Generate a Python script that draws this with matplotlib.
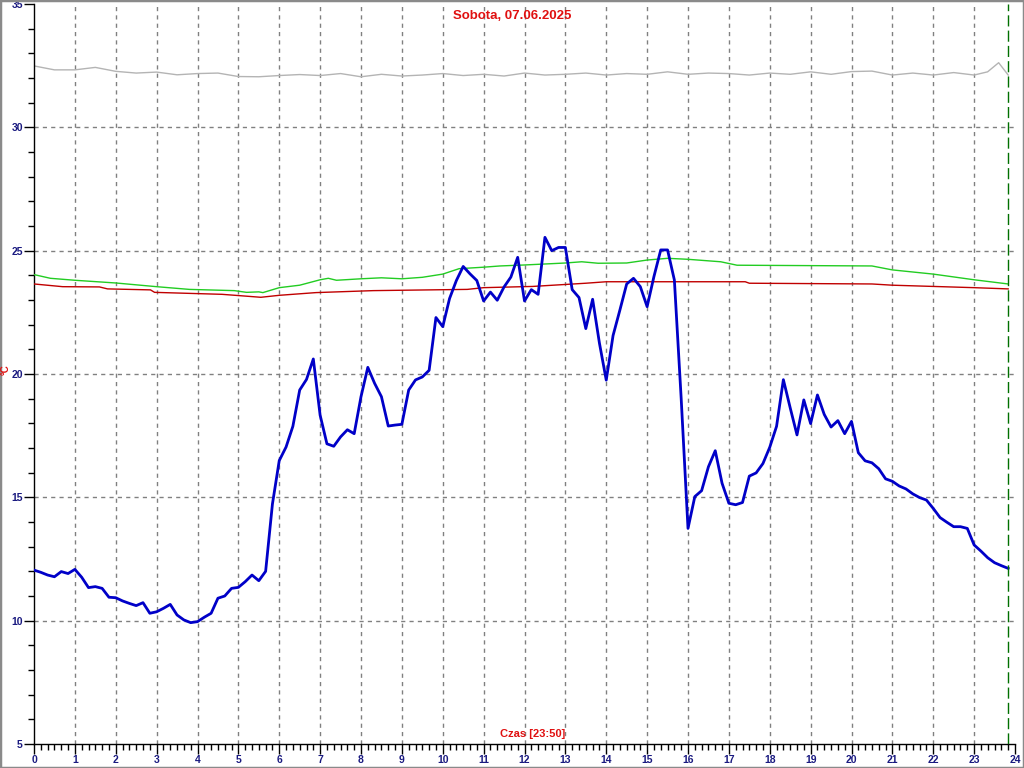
import matplotlib
matplotlib.use("Agg")
import matplotlib.pyplot as plt
from matplotlib.patches import Rectangle
from matplotlib.ticker import MultipleLocator
import numpy as np

# ---- data ----
title = "Sobota, 07.06.2025"
xlabel = "Czas [23:50]"
ylabel = "°C"
x_ticks = list(range(0, 25))
y_ticks = [5, 10, 15, 20, 25, 30, 35]
end_hour = 23 + 50 / 60

# blue series: 10-minute samples starting at 00:00
blue_vals = [
    12.05, 11.96, 11.85, 11.78, 11.99, 11.91, 12.08, 11.76, 11.34, 11.38,
    11.31, 10.95, 10.93, 10.80, 10.70, 10.61, 10.73, 10.30, 10.36, 10.50,
    10.66, 10.23, 10.03, 9.92, 9.96, 10.14, 10.30, 10.91, 11.00, 11.31,
    11.35, 11.58, 11.85, 11.62, 12.00, 14.73, 16.49, 17.04, 17.88, 19.35,
    19.78, 20.61, 18.33, 17.17, 17.07, 17.45, 17.74, 17.58, 19.08, 20.27,
    19.62, 19.08, 17.89, 17.93, 17.96, 19.35, 19.76, 19.88, 20.15, 22.29,
    21.92, 23.06, 23.79, 24.36, 24.06, 23.79, 22.96, 23.32, 22.99, 23.53,
    23.93, 24.73, 22.96, 23.42, 23.23, 25.54, 25.00, 25.13, 25.13, 23.42,
    23.10, 21.84, 23.03, 21.25, 19.75, 21.56, 22.59, 23.65, 23.88, 23.54,
    22.73, 23.95, 25.03, 25.03, 23.81, 19.00, 13.74, 15.03, 15.27, 16.24,
    16.89, 15.57, 14.76, 14.70, 14.79, 15.86, 15.99, 16.37, 17.03, 17.88,
    19.77, 18.63, 17.53, 18.95, 17.99, 19.15, 18.36, 17.85, 18.11, 17.58,
    18.08, 16.81, 16.48, 16.40, 16.16, 15.75, 15.65, 15.46, 15.34, 15.14,
    14.99, 14.89, 14.55, 14.18, 13.99, 13.81, 13.81, 13.74, 13.07, 12.82,
    12.55, 12.35, 12.23, 12.12,
]
blue_hours = [i / 6 for i in range(len(blue_vals))]

green_hours = [0, 0.4, 1.0, 2.0, 3.0, 3.8, 4.9, 5.2, 5.5, 5.6, 6.0, 6.5, 7.0, 7.2,
               7.4, 8.0, 8.5, 9.0, 9.5, 10.0, 10.4, 11.0, 11.4, 12.0, 13.0, 13.4,
               13.8, 14.5, 15.0, 15.5, 16.0, 16.8, 17.2, 20.5, 21.0, 22.0, 23.0, end_hour]
green_vals = [24.03, 23.88, 23.80, 23.69, 23.54, 23.43, 23.38, 23.31, 23.33, 23.30,
              23.50, 23.60, 23.82, 23.88, 23.80, 23.86, 23.90, 23.86, 23.92, 24.05,
              24.27, 24.33, 24.38, 24.42, 24.50, 24.55, 24.49, 24.50, 24.62, 24.69,
              24.65, 24.55, 24.41, 24.38, 24.22, 24.05, 23.82, 23.65]

red_hours = [0, 0.7, 1.6, 1.8, 2.85, 2.95, 4.6, 5.0, 5.55, 6.0, 6.9, 8.3, 10.6,
             11.0, 12.2, 13.5, 14.0, 17.4, 17.5, 20.5, 21.0, 22.0, 23.0, end_hour]
red_vals = [23.65, 23.54, 23.53, 23.45, 23.41, 23.31, 23.23, 23.18, 23.11, 23.19,
            23.30, 23.38, 23.43, 23.50, 23.55, 23.68, 23.74, 23.74, 23.68, 23.65,
            23.60, 23.55, 23.50, 23.45]

gray_hours = [0, 0.5, 1.0, 1.5, 2.0, 2.5, 3.0, 3.5, 4.0, 4.5, 5.0, 5.5, 6.0, 6.5,
              7.0, 7.5, 8.0, 8.5, 9.0, 9.5, 10.0, 10.5, 11.0, 11.5, 12.0, 12.5,
              13.0, 13.5, 14.0, 14.5, 15.0, 15.5, 16.0, 16.5, 17.0, 17.5, 18.0,
              18.5, 19.0, 19.5, 20.0, 20.5, 21.0, 21.5, 22.0, 22.5, 23.0, 23.33,
              23.6, end_hour]
gray_vals = [32.49, 32.33, 32.33, 32.43, 32.27, 32.20, 32.24, 32.13, 32.18, 32.20,
             32.06, 32.05, 32.10, 32.14, 32.10, 32.18, 32.05, 32.15, 32.08, 32.12,
             32.18, 32.10, 32.15, 32.08, 32.20, 32.12, 32.15, 32.20, 32.12, 32.18,
             32.15, 32.25, 32.15, 32.20, 32.18, 32.12, 32.20, 32.15, 32.25, 32.15,
             32.26, 32.28, 32.12, 32.20, 32.12, 32.22, 32.12, 32.25, 32.62, 32.12]

# ---- plot ----
plt.rcParams['font.family'] = ['Liberation Sans', 'DejaVu Sans']
fig = plt.figure(figsize=(10.24, 7.68), dpi=100)
ax = fig.add_axes([34 / 1024, 24 / 768, (1015 - 34) / 1024, (744 - 4) / 768])

ax.set_xlim(0, 24)
ax.set_ylim(5, 35)

grid_kw = dict(color='#808080', lw=1, linestyle=(0, (3, 3)), zorder=1)
for h in x_ticks[1:-1]:
    ax.axvline(h, **grid_kw)
for v in y_ticks[1:-1]:
    ax.axhline(v, **grid_kw)

ax.plot(gray_hours, gray_vals, color='#b4b4b4', lw=1, zorder=2)
ax.plot(green_hours, green_vals, color='#22cc22', lw=1, zorder=3)
ax.plot(red_hours, red_vals, color='#c00000', lw=1, zorder=3)
ax.plot(blue_hours, blue_vals, color='#0000c8', lw=2, zorder=4)
ax.axvline(end_hour, color='#007000', lw=1, linestyle=(0, (8, 3)), zorder=5)

for s in ['top', 'right']:
    ax.spines[s].set_visible(False)
for s in ['left', 'bottom']:
    ax.spines[s].set_color('black')
    ax.spines[s].set_linewidth(1)

ax.set_xticks(x_ticks)
ax.set_yticks(y_ticks)
ax.xaxis.set_minor_locator(MultipleLocator(1 / 6))
ax.yaxis.set_minor_locator(MultipleLocator(1))
ax.tick_params(axis='both', which='major', direction='out', length=7, width=1,
               colors='black', labelcolor='#1a1a80', labelsize=7.5, pad=1)
ax.tick_params(axis='both', which='minor', direction='out', length=4, width=1,
               colors='black')
for lbl in ax.get_xticklabels() + ax.get_yticklabels():
    lbl.set_fontweight('bold')

fig.text(0.5, 1 - 10 / 768, title, ha='center', va='top',
         color='#e01010', fontsize=9.5, fontweight='bold')
ax.text(12.2, 5.2, xlabel, ha='center', va='bottom', color='#e01010',
        fontsize=8, fontweight='bold')
fig.text(6 / 1024, 1 - 370 / 768, ylabel, rotation=90, ha='center', va='center',
         color='#e01010', fontsize=7, fontweight='bold')

fig.patches.append(Rectangle((0, 0), 1, 1, transform=fig.transFigure, fill=False,
                             edgecolor='#8a8a8a', lw=2.5))

fig.savefig('out.png', dpi=100)
